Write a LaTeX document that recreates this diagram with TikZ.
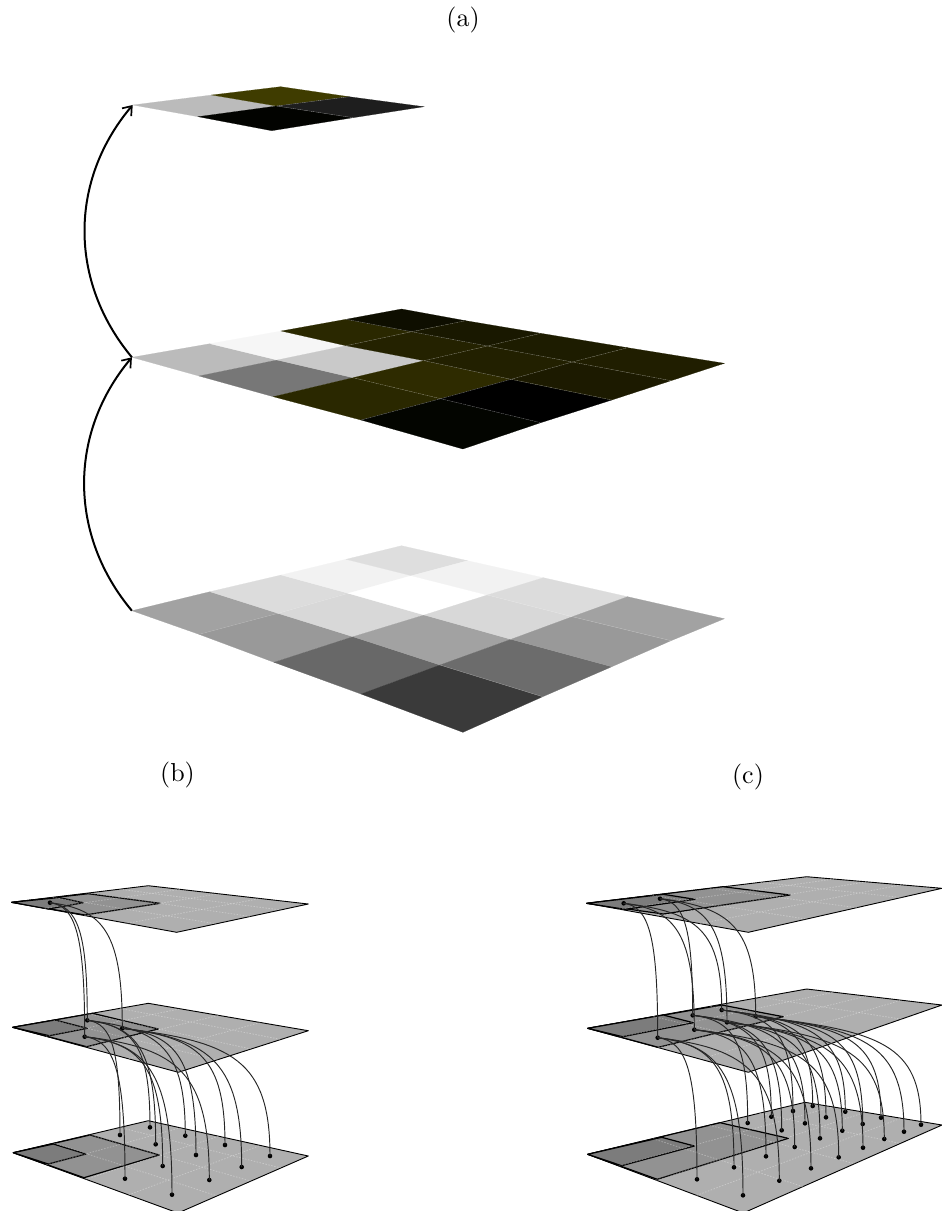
\documentclass[tikz,border=0pt]{standalone}
\usetikzlibrary{calc,arrows.meta}
\tikzset{
  griddash/.style={draw=white,opacity=.3,line width=.8pt,dash pattern=on 1.5pt off 1.5pt},
  seam/.style={draw=white,opacity=.42,line width=.35pt,dash pattern=on 1.6pt off .7pt},
  faintseam/.style={draw=white,opacity=.3,line width=.3pt},
  planeface/.style={fill=planegray,draw=black,line width=.9pt,line join=round},
  coarseface/.style={fill=midgray,draw=black,line width=1.2pt,line join=round},
  fineface/.style={fill=darkgray,draw=black,line width=1.2pt,line join=round},
  dotnode/.style={circle,fill=black,inner sep=0pt,minimum size=4.6pt},
  linkline/.style={draw=black!85,line width=.95pt},
  liftarrow/.style={line width=2pt,-{Straight Barb[length=8pt,width=12pt,line width=1.7pt]},bend left=40},
  caption/.style={scale=2.6,inner sep=0pt}
}
\definecolor{planegray}{HTML}{AFAFAF}
\definecolor{midgray}{HTML}{929292}
\definecolor{darkgray}{HTML}{7C7C7C}
\newcommand\pointset[1]{\foreach \nm/\px/\py in {#1}{\coordinate (\nm) at (\px,\py);}}
\newcommand\dotset[1]{\foreach \nm/\px/\py in {#1}{\node[dotnode] (\nm) at (\px,\py) {};}}
\newcommand\cellset[2]{\foreach \ia/\ib/\ic in {#2}{%
  \pgfmathtruncatemacro\ja{\ia+1}\pgfmathtruncatemacro\jb{\ib+1}%
  \definecolor{cellc}{HTML}{\ic}%
  \fill[fill=cellc,draw=cellc,line width=.2pt] (#1\ia\ib)--(#1\ja\ib)--(#1\ja\jb)--(#1\ia\jb)--cycle;}}
\newcommand\gridlines[4]{%
  \foreach \f in {.3,.56,.79}{\draw[griddash] ($(#1)!\f!(#2)$) -- ($(#4)!\f!(#3)$);}%
  \foreach \f in {.2,.44,.7}{\draw[griddash] ($(#1)!\f!(#4)$) -- ($(#2)!\f!(#3)$);}}
\newcommand\linkcurve[2]{\draw[linkline] let \p1=(#1.center),\p2=(#2.center),\n1={\x2-\x1} in
  (#1.center) .. controls ({\x1+0.75*\n1},{\y1-0.09*\n1}) and (\x2,{\y1+0.25*(\y2-\y1)}) .. (#2.center);}
\newcommand\linkset[2]{\foreach \kid in {#2}{\linkcurve{#1}{\kid}}}
\begin{document}
\begin{tikzpicture}[x=1pt,y=-1pt]
\useasboundingbox (0,0) rectangle (942,1211);
\clip (0,0) rectangle (942,1211);
% ---------- panel (a) ----------
\node[caption] (capa) at (463,20) {(a)};
\node[caption] (capb) at (177.5,775) {(b)};
\node[caption] (capc) at (748,777) {(c)};
\pointset{n00/131.9/610.7,n01/199/634.3,n02/274/662.3,n03/361/694,n04/462.9/732.3,
n10/210/591.7,n11/278/613.3,n12/353/636.7,n13/440/665,n14/542.7/696.7,
n20/281.2/575,n21/348.3/593.3,n22/424.2/615,n23/511/639.3,n24/611.8/666.7,
n30/346/559.3,n31/411.5/575.7,n32/487.4/595,n33/572.3/616.7,n34/671/640.7,
n40/401.6/545.7,n41/467.6/560.7,n42/543.4/577.7,n43/627.6/596.7,n44/724.4/618.7}
\cellset{n}{0/0/A2A2A2,0/1/999999,0/2/686868,0/3/3A3A3A,
1/0/DCDCDC,1/1/D8D8D8,1/2/A2A2A2,1/3/6C6C6C,
2/0/F2F2F2,2/1/FFFFFF,2/2/D8D8D8,2/3/999999,
3/0/DEDEDE,3/1/F2F2F2,3/2/DCDCDC,3/3/A2A2A2}
\draw[faintseam] (n01)--(n11)--(n21);
\draw[faintseam] (n32)--(n33)--(n34);
\draw[faintseam] (n13)--(n14);
\pointset{m00/131.9/357.3,m01/199/376,m02/273.3/396.7,m03/361/420,m04/462.9/449,
m10/210/343.7,m11/277.2/360,m12/353/377.7,m13/440.7/398.7,m14/540.7/422.7,
m20/281.2/331,m21/346/345.7,m22/424.2/360.7,m23/511/379.3,m24/611.8/400,
m30/346/319.3,m31/411.5/331.7,m32/487.4/346,m33/572.3/362,m34/671/380.7,
m40/401.6/309,m41/465.6/320.7,m42/540.7/333.3,m43/627.6/347.7,m44/724.4/363.3}
\cellset{m}{0/0/BBBBBB,0/1/777777,0/2/2A2800,0/3/030500,
1/0/F6F6F6,1/1/C9C9C9,1/2/2E2B00,1/3/000000,
2/0/2A2800,2/1/242200,2/2/222000,2/3/1C1A00,
3/0/0E0E00,3/1/191800,3/2/1D1C00,3/3/201E00}
\draw[seam] (m30)--(m31)--(m32)--(m33)--(m34);
\draw[seam] (m21)--(m31)--(m41);
\draw[seam] (m22)--(m32)--(m42);
\draw[seam] (m12)--(m13)--(m14);
\draw[seam] (m22)--(m23)--(m24);
\draw[seam] (m03)--(m13)--(m23)--(m33)--(m43);
\pointset{t00/132.7/105,t01/198/116.7,t02/271.7/130.7,
t10/211.7/95,t11/276.7/106,t12/353/117.7,
t20/280.7/86.7,t21/349/96.7,t22/424/106.7}
\cellset{t}{0/0/BBBBBB,0/1/020300,1/0/3F3C00,1/1/1E1E1E}
\draw[seam] (t11)--(t21);
\draw[seam] (t11)--(t12);
\draw[liftarrow] (n00) to (m00);
\draw[liftarrow] (m00) to (t00);
% ---------- panel (b) ----------
\pointset{bbL/13.3/1152.7,bbT/148.3/1120.7,bbR/308.3/1156,bbB/178/1213,
bmL/12.7/1027.3,bmT/148.3/1003.3,bmR/308.3/1030.7,bmB/178.3/1072.3,
btL/11.7/902.3,btT/148.3/885.7,btR/308.3/904,btB/176.7/932.3}
\draw[planeface] (bbL)--(bbT)--(bbR)--(bbB)--cycle;
\draw[coarseface] (bbL)--(90,1135)--(159.3,1155)--(84,1177.7)--cycle;
\draw[fineface] (bbL)--(53.3,1144)--(86,1154)--(48.3,1164)--cycle;
\gridlines{bbL}{bbT}{bbR}{bbB}
\draw[planeface] (bmL)--(bmT)--(bmR)--(bmB)--cycle;
\draw[coarseface] (bmL)--(92.7,1013.3)--(158.3,1029)--(86.7,1046.7)--cycle;
\draw[fineface] (bmL)--(55,1020)--(87.3,1028.3)--(49.3,1035.7)--cycle;
\gridlines{bmL}{bmT}{bmR}{bmB}
\draw[planeface] (btL)--(btT)--(btR)--(btB)--cycle;
\draw[coarseface] (btL)--(88.3,893.7)--(160,903.3)--(85,915)--cycle;
\draw[fineface] (btL)--(59,897.5)--(83.3,902.7)--(48.3,909)--cycle;
\gridlines{btL}{btT}{btR}{btB}
\dotset{bt/50/902.7,bmA/87.3/1020.3,bmC/122.3/1028.3,bmD/84.7/1036.7,
ba1/120/1135,ba2/150/1127.3,ba3/155.7/1144.3,ba4/185.3/1135.7,
bc1/196/1155,bc2/225/1145,bc3/241.7/1167,bc4/270/1156,
bd1/125/1178.7,bd2/162.7/1166,bd3/172/1194.7,bd4/209.3/1180}
\linkset{bt}{bmA,bmC,bmD}
\linkset{bmA}{ba1,ba2,ba3,ba4}
\linkset{bmC}{bc1,bc2,bc3,bc4}
\linkset{bmD}{bd1,bd2,bd3,bd4}
% ---------- panel (c) ----------
\pointset{cbL/587.7/1154.3,cbT/805/1102.3,cbR/942/1125,cbB/743.3/1213,
cmL/587.7/1028.3,cmT/806.7/989,cmR/942/1005,cmB/748.3/1072.3,
ctL/586.7/903.3,ctT/806.7/876.7,ctR/942/888.3,ctB/748.3/932.3}
\draw[planeface] (cbL)--(cbT)--(cbR)--(cbB)--cycle;
\draw[coarseface] (cbL)--(720,1122.7)--(788.3,1138.3)--(657.3,1179.3)--cycle;
\draw[fineface] (cbL)--(661.7,1137.3)--(694.3,1146)--(621.7,1165.7)--cycle;
\gridlines{cbL}{cbT}{cbR}{cbB}
\draw[planeface] (cmL)--(cmT)--(cmR)--(cmB)--cycle;
\draw[coarseface] (cmL)--(721.7,1005)--(783.3,1016.7)--(658.3,1047.3)--cycle;
\draw[fineface] (cmL)--(663.3,1015)--(693.3,1022.7)--(622.7,1036.7)--cycle;
\gridlines{cmL}{cmT}{cmR}{cmB}
\draw[planeface] (ctL)--(ctT)--(ctR)--(ctB)--cycle;
\draw[coarseface] (ctL)--(723,886.7)--(790,895)--(663.3,914)--cycle;
\draw[fineface] (ctL)--(663.3,894.3)--(695,899.3)--(625,909.3)--cycle;
\gridlines{ctL}{ctT}{ctR}{ctB}
\dotset{cp/623.7/903.3,cq/660/898.7,
cm1/657.7/1037.7,cm2/694.3/1029.7,cm3/727/1022.3,cm4/755.7/1016.3,cm5/692.7/1015.3,cm6/721.7/1010,
cd1/697/1179.3,cd2/743/1195.3,cd3/734/1167.3,cd4/779.3/1180.7,
cd5/766/1156.3,cd6/811/1168.3,cd7/794.7/1147,cd8/838.7/1157.3,
cd9/820/1138.3,cd10/863/1147.7,cd11/842.3/1130.7,cd12/884.3/1139,
cd13/862.7/1124,cd14/904/1131.7,cd15/881/1117.7,cd16/921/1124.7,
cd17/747.7/1123,cd18/781.7/1130.3,cd19/771.3/1116.7,cd20/805/1123.3,
cd21/793/1111,cd22/826/1117.3,cd23/812.7/1106,cd24/845.3/1111.7}
\linkset{cp}{cm1,cm2,cm6}
\linkset{cq}{cm5,cm3,cm4}
\linkset{cm1}{cd1,cd2,cd3,cd4}
\linkset{cm2}{cd5,cd6,cd7,cd8}
\linkset{cm3}{cd9,cd10,cd11,cd12}
\linkset{cm4}{cd13,cd14,cd15,cd16}
\linkset{cm5}{cd17,cd18,cd19,cd20}
\linkset{cm6}{cd21,cd22,cd23,cd24}
\end{tikzpicture}
\end{document}
